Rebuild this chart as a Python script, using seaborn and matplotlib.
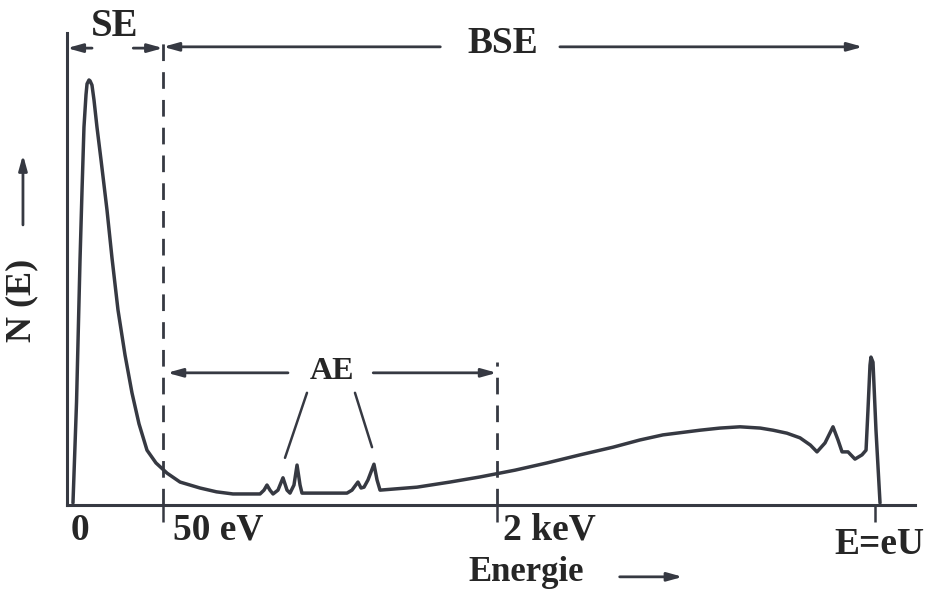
import numpy as np
import pandas as pd
import matplotlib
matplotlib.use("Agg")
import matplotlib.pyplot as plt
import seaborn as sns

# energy spectrum of emitted electrons (arbitrary units, E=eU at 100)
energy = [0.74, 1.18, 1.61, 1.86, 2.10, 2.35, 2.48, 2.72, 2.85, 3.09, 3.34, 3.71, 4.21, 4.95,
          5.57, 6.31, 7.18, 8.04, 8.91, 9.9, 11.01, 12.38, 13.99, 16.46, 18.5,
          20.54, 23.89, 24.38, 24.75, 25.12, 25.5, 26.11, 26.73, 27.23, 27.6, 28.09, 28.47, 28.84,
          29.08, 34.65, 35.27, 36.01, 36.39, 36.76, 37.25, 37.99, 38.37, 38.74, 43.32, 47.4, 51.11,
          55.45, 59.41, 63.5, 67.57, 70.9, 73.76, 78.34, 80.8, 83.29, 85.8, 87.38, 89.1, 90.72,
          92.0, 92.82, 93.81, 94.8, 95.42, 95.92,
          96.66, 97.52, 98.39, 98.89, 99.13, 99.38, 99.5, 99.75, 100.12, 100.62]
counts = [0.5, 24.2, 57.6, 74.1, 88.9, 96.5, 99.1, 100.0, 99.8, 98.8, 95.3, 88.9, 81.2, 69.4,
          58.1, 45.9, 35.3, 26.4, 19.1, 12.9, 9.9, 7.5, 5.4, 4.0, 3.1,
          2.6, 2.6, 3.5, 4.7, 3.5, 2.6, 3.5, 6.4, 3.5, 2.8, 4.7, 9.4, 4.7,
          2.8, 2.8, 3.5, 5.4, 4.0, 4.2, 5.9, 9.6, 5.9, 3.5, 4.2, 5.4, 6.6,
          8.2, 9.9, 11.8, 13.6, 15.3, 16.5, 17.6, 18.1, 18.4, 18.1, 17.6, 16.9, 15.8,
          14.1, 12.5, 14.6, 18.4, 15.3, 12.5,
          12.5, 10.8, 11.8, 12.9, 22.4, 32.9, 34.8, 33.6, 17.6, 0.5]

# region borders
se_limit = 11.9     # 50 eV
ae_limit = 53.2     # 2 keV
e_max = 100.0       # E=eU
tick_labels = ["0", "50 eV", "2 keV", "E=eU"]

sns.set_style("white")
plt.rcParams['font.family'] = ['Liberation Serif', 'DejaVu Serif']
plt.rcParams['font.weight'] = 'bold'

ink = '#363942'
df = pd.DataFrame({'E': energy, 'N': counts})

fig = plt.figure(figsize=(9.28, 5.89), dpi=100)
ax = fig.add_axes([0.0722, 0.1426, 0.9138, 0.8014])
sns.lineplot(data=df, x='E', y='N', ax=ax, color=ink, linewidth=2.5, sort=False)

ax.set_xlim(0, 104.95)
ax.set_ylim(0, 111.06)
ax.set_xlabel('')
ax.set_ylabel('')
ax.set_yticks([])
ax.set_xticks([se_limit, ae_limit, e_max])
ax.set_xticklabels([])
ax.tick_params(axis='x', direction='out', length=12, width=1.8, color=ink, bottom=True)
for s in ['top', 'right']:
    ax.spines[s].set_visible(False)
for s in ['left', 'bottom']:
    ax.spines[s].set_color(ink)
    ax.spines[s].set_linewidth(2.2)

# dashed region borders
ax.plot([se_limit, se_limit], [0, 109.4], color=ink, lw=2, ls=(0, (6, 4)), clip_on=False)
ax.plot([ae_limit, ae_limit], [0, 33.6], color=ink, lw=2, ls=(0, (6, 4)), clip_on=False)

arrow = dict(arrowstyle='-|>,head_length=0.9,head_width=0.25', color=ink, lw=2,
             shrinkA=0, shrinkB=0)

def bracket(x0, x1, y):
    ax.annotate('', xy=(x1, y), xytext=(x0, y), arrowprops=arrow, annotation_clip=False)

# SE
bracket(3.1, 0.0, 107.5)
bracket(8.2, se_limit, 107.5)
ax.text(5.94, 112.5, 'SE', ha='center', va='center', fontsize=28, fontweight='bold', clip_on=False)
# BSE
bracket(46.2, se_limit, 107.8)
bracket(61.0, 98.5, 107.8)
ax.text(53.96, 108.5, 'BSE', ha='center', va='center', fontsize=27, fontweight='bold', clip_on=False)
# AE
bracket(27.35, 12.4, 31.1)
bracket(37.9, ae_limit, 31.1)
ax.text(32.8, 31.3, 'AE', ha='center', va='center', fontsize=23, fontweight='bold')
ax.plot([29.7, 26.98], [26.4, 11.1], color=ink, lw=1.8)
ax.plot([35.64, 37.75], [26.4, 13.6], color=ink, lw=1.8)

# x labels
label_x = [1.6, 18.7, 59.65, 100.6]
label_y = [-5.9, -5.9, -5.9, -9.4]
for lx, ly, t in zip(label_x, label_y, tick_labels):
    ax.text(lx, ly, t, ha='center', va='center', fontsize=27, fontweight='bold', clip_on=False)
ax.text(56.8, -15.9, 'Energie', ha='center', va='center', fontsize=25, fontweight='bold', clip_on=False)
ax.annotate('', xy=(76.2, -16.9), xytext=(68.4, -16.9), arrowprops=arrow, annotation_clip=False)

# y label
ax.text(-5.57, 48.2, 'N (E)', ha='center', va='center', rotation=90, fontsize=26,
        fontweight='bold', clip_on=False)
ax.annotate('', xy=(-5.45, 82.4), xytext=(-5.45, 65.9), arrowprops=arrow, annotation_clip=False)

fig.savefig('out.png', dpi=100)
